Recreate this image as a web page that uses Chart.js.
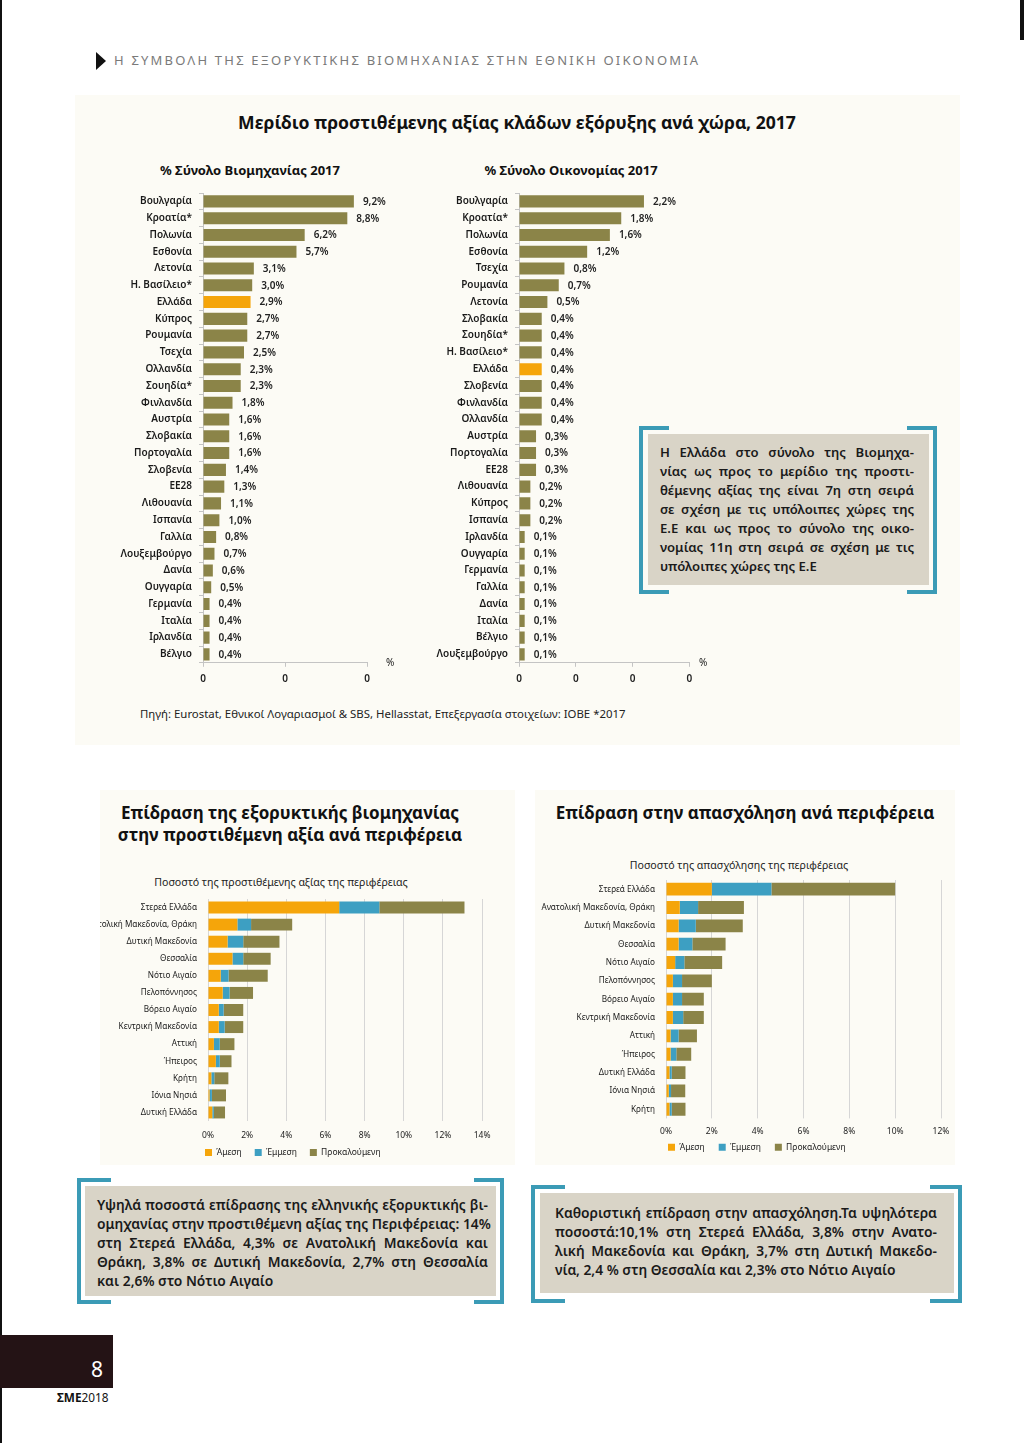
<!DOCTYPE html>
<html><head><meta charset="utf-8">
<script src="https://cdn.jsdelivr.net/npm/chart.js@4.4.1/dist/chart.umd.min.js"></script>
<style>
body{margin:0;width:1024px;height:1443px;position:relative;background:#fff;font-family:"Noto Sans",sans-serif;overflow:hidden;color:#1a1a1a}
.abs{position:absolute}
.panel{position:absolute;background:#fcfbf5}
.tri{position:absolute;left:96px;top:52px;width:0;height:0;border-left:10px solid #111;border-top:9px solid transparent;border-bottom:9px solid transparent}
.hdr{position:absolute;left:114px;top:51px;font-size:13px;letter-spacing:2.2px;color:#7a7a7a;white-space:nowrap;line-height:19px}
.title{position:absolute;font-weight:700;white-space:nowrap;color:#111;text-align:center}
.sub{position:absolute;font-weight:700;font-size:13px;white-space:nowrap;text-align:center;color:#111}
.sub2{position:absolute;font-size:10.6px;white-space:nowrap;text-align:center;color:#222}
canvas{display:block}
.cv{position:absolute}
.box{position:absolute;background:#d9d4c7}
.brk{position:absolute;border:4px solid #3b9bb6;}
.txt{position:absolute;font-weight:600;color:#1a1a1a;}
.txt div{text-align:justify;text-align-last:justify;white-space:nowrap}
.txt div.last{text-align-last:left}
.src{position:absolute;left:140px;top:706px;font-size:11.4px;white-space:nowrap;color:#222}
</style></head><body>
<div class="abs" style="left:0;top:0;width:2px;height:1443px;background:#111"></div>
<div class="abs" style="left:1020px;top:0;width:4px;height:40px;background:#111"></div>

<div class="panel" style="left:75px;top:95px;width:885px;height:650px"></div>
<div class="panel" style="left:100px;top:790px;width:415px;height:375px"></div>
<div class="panel" style="left:535px;top:790px;width:420px;height:375px"></div>

<div class="tri"></div>
<div class="hdr">Η ΣΥΜΒΟΛΗ ΤΗΣ ΕΞΟΡΥΚΤΙΚΗΣ ΒΙΟΜΗΧΑΝΙΑΣ ΣΤΗΝ ΕΘΝΙΚΗ ΟΙΚΟΝΟΜΙΑ</div>

<div class="title" style="left:217px;width:600px;top:109px;font-size:17.6px;line-height:26px">Μερίδιο προστιθέμενης αξίας κλάδων εξόρυξης ανά χώρα, 2017</div>
<div class="sub" style="left:150px;width:200px;top:161px">% Σύνολο Βιομηχανίας 2017</div>
<div class="sub" style="left:471px;width:200px;top:161px">% Σύνολο Οικονομίας 2017</div>

<div class="cv" style="left:85px;top:178.6px;width:330px;height:516.4px"><canvas id="c1"></canvas></div>
<div class="cv" style="left:420px;top:178.6px;width:300px;height:516.4px"><canvas id="c2"></canvas></div>
<div class="abs" style="left:386px;top:655px;font-size:10px">%</div>
<div class="abs" style="left:699px;top:655px;font-size:10px">%</div>

<div class="brk" style="left:639px;top:426px;width:26px;height:160px;border-right:none"></div>
<div class="brk" style="left:907px;top:426px;width:26px;height:160px;border-left:none"></div>
<div class="box" style="left:648px;top:434px;width:281px;height:151px"></div>
<div class="txt" style="left:660px;top:443px;width:254px;font-size:13.1px;line-height:19px">
<div>Η Ελλάδα στο σύνολο της Βιομηχα-</div>
<div>νίας ως προς το μερίδιο της προστι-</div>
<div>θέμενης αξίας της είναι 7η στη σειρά</div>
<div>σε σχέση με τις υπόλοιπες χώρες της</div>
<div>Ε.Ε και ως προς το σύνολο της οικο-</div>
<div>νομίας 11η στη σειρά σε σχέση με τις</div>
<div class="last">υπόλοιπες χώρες της Ε.Ε</div>
</div>

<div class="src">Πηγή: Eurostat, Εθνικοί Λογαριασμοί &amp; SBS, Hellasstat, Επεξεργασία στοιχείων: ΙΟΒΕ *2017</div>

<div class="title" style="left:90px;width:400px;top:802px;font-size:17px;line-height:22px">Επίδραση της εξορυκτικής βιομηχανίας<br>στην προστιθέμενη αξία ανά περιφέρεια</div>
<div class="title" style="left:545px;width:400px;top:802px;font-size:17px;line-height:22px">Επίδραση στην απασχόληση ανά περιφέρεια</div>
<div class="sub2" style="left:131px;width:300px;top:875px">Ποσοστό της προστιθέμενης αξίας της περιφέρειας</div>
<div class="sub2" style="left:589px;width:300px;top:858px">Ποσοστό της απασχόλησης της περιφέρειας</div>

<div class="cv" style="left:100px;top:880.5px;width:400px;height:294px"><canvas id="c3"></canvas></div>
<div class="cv" style="left:530px;top:861.8px;width:430px;height:311px"><canvas id="c4"></canvas></div>

<div class="brk" style="left:77px;top:1178px;width:30px;height:118px;border-right:none"></div>
<div class="brk" style="left:474px;top:1178px;width:26px;height:118px;border-left:none"></div>
<div class="box" style="left:85px;top:1186px;width:411px;height:110px"></div>
<div class="txt" style="left:97px;top:1195px;width:391px;font-size:13.8px;line-height:19px">
<div>Υψηλά ποσοστά επίδρασης της ελληνικής εξορυκτικής βι-</div>
<div>ομηχανίας στην προστιθέμενη αξίας της Περιφέρειας: 14%</div>
<div>στη Στερεά Ελλάδα, 4,3% σε Ανατολική Μακεδονία και</div>
<div>Θράκη, 3,8% σε Δυτική Μακεδονία, 2,7% στη Θεσσαλία</div>
<div class="last">και 2,6% στο Νότιο Αιγαίο</div>
</div>

<div class="brk" style="left:531px;top:1185px;width:30px;height:110px;border-right:none"></div>
<div class="brk" style="left:930px;top:1185px;width:28px;height:110px;border-left:none"></div>
<div class="box" style="left:540px;top:1193px;width:414px;height:100px"></div>
<div class="txt" style="left:555px;top:1203px;width:382px;font-size:13.8px;line-height:19px">
<div>Καθοριστική επίδραση στην απασχόληση.Τα υψηλότερα</div>
<div>ποσοστά:10,1% στη Στερεά Ελλάδα, 3,8% στην Ανατο-</div>
<div>λική Μακεδονία και Θράκη, 3,7% στη Δυτική Μακεδο-</div>
<div class="last">νία, 2,4 % στη Θεσσαλία και 2,3% στο Νότιο Αιγαίο</div>
</div>

<div class="abs" style="left:0;top:1335px;width:113px;height:53px;background:#241315"></div>
<div class="abs" style="left:91px;top:1355px;font-size:21px;color:#fff;line-height:28px">8</div>
<div class="abs" style="left:57px;top:1389px;font-size:11.8px;white-space:nowrap;color:#111"><b>ΣΜΕ</b>2018</div>

<script>
// ---- DATA ----
const industryCountries = ['Βουλγαρία','Κροατία*','Πολωνία','Εσθονία','Λετονία','Η. Βασίλειο*','Ελλάδα','Κύπρος','Ρουμανία','Τσεχία','Ολλανδία','Σουηδία*','Φινλανδία','Αυστρία','Σλοβακία','Πορτογαλία','Σλοβενία','ΕΕ28','Λιθουανία','Ισπανία','Γαλλία','Λουξεμβούργο','Δανία','Ουγγαρία','Γερμανία','Ιταλία','Ιρλανδία','Βέλγιο'];
const industryValues = [9.2,8.8,6.2,5.7,3.1,3.0,2.9,2.7,2.7,2.5,2.3,2.3,1.8,1.6,1.6,1.6,1.4,1.3,1.1,1.0,0.8,0.7,0.6,0.5,0.4,0.4,0.4,0.4];
const economyCountries = ['Βουλγαρία','Κροατία*','Πολωνία','Εσθονία','Τσεχία','Ρουμανία','Λετονία','Σλοβακία','Σουηδία*','Η. Βασίλειο*','Ελλάδα','Σλοβενία','Φινλανδία','Ολλανδία','Αυστρία','Πορτογαλία','ΕΕ28','Λιθουανία','Κύπρος','Ισπανία','Ιρλανδία','Ουγγαρία','Γερμανία','Γαλλία','Δανία','Ιταλία','Βέλγιο','Λουξεμβούργο'];
const economyValues = [2.2,1.8,1.6,1.2,0.8,0.7,0.5,0.4,0.4,0.4,0.4,0.4,0.4,0.4,0.3,0.3,0.3,0.2,0.2,0.2,0.1,0.1,0.1,0.1,0.1,0.1,0.1,0.1];
const industryTickLabels = ['0','0','0'];
const economyTickLabels = ['0','0','0','0'];
const highlightCountry = 'Ελλάδα';

const impactSeries = ['Άμεση','Έμμεση','Προκαλούμενη'];
const gvaRegions = ['Στερεά Ελλάδα','Ανατολική Μακεδονία, Θράκη','Δυτική Μακεδονία','Θεσσαλία','Νότιο Αιγαίο','Πελοπόννησος','Βόρειο Αιγαίο','Κεντρική Μακεδονία','Αττική','Ήπειρος','Κρήτη','Ιόνια Νησιά','Δυτική Ελλάδα'];
const gvaDirect   = [6.7,1.5,1.0,1.25,0.65,0.75,0.55,0.55,0.3,0.4,0.17,0.08,0.22];
const gvaIndirect = [2.05,0.7,0.8,0.55,0.4,0.35,0.25,0.3,0.3,0.2,0.15,0.12,0.08];
const gvaInduced  = [4.35,2.1,1.85,1.4,2.0,1.2,1.0,0.95,0.75,0.6,0.72,0.72,0.57];
const empRegions = ['Στερεά Ελλάδα','Ανατολική Μακεδονία, Θράκη','Δυτική Μακεδονία','Θεσσαλία','Νότιο Αιγαίο','Πελοπόννησος','Βόρειο Αιγαίο','Κεντρική Μακεδονία','Αττική','Ήπειρος','Δυτική Ελλάδα','Ιόνια Νησιά','Κρήτη'];
const empDirect   = [2.0,0.6,0.55,0.55,0.4,0.3,0.3,0.3,0.2,0.2,0.15,0.12,0.15];
const empIndirect = [2.6,0.8,0.75,0.6,0.4,0.4,0.4,0.45,0.35,0.25,0.1,0.1,0.1];
const empInduced  = [5.4,2.0,2.05,1.45,1.65,1.3,0.95,0.9,0.8,0.65,0.6,0.62,0.6];

// ---- STYLE ----
const OLIVE = '#8b8448', ORANGE = '#f5a50a', TEAL = '#3d9fc2';
const FONT = '"Noto Sans", sans-serif';

const valueLabels = {
  id: 'valueLabels',
  afterDatasetsDraw(chart, args, opts) {
    const ctx = chart.ctx, meta = chart.getDatasetMeta(0);
    ctx.save();
    ctx.font = opts.font; ctx.fillStyle = opts.color;
    ctx.textBaseline = 'middle'; ctx.textAlign = 'left';
    meta.data.forEach((bar, i) => {
      const v = chart.data.datasets[0].data[i];
      ctx.fillText(v.toFixed(1).replace('.', ',') + '%', bar.x + opts.offset, bar.y + 0.5);
    });
    ctx.restore();
  }
};

const legendPos = {
  id: 'legendPos',
  afterLayout(chart, args, opts) {
    const l = chart.legend;
    if (!l || opts.left === undefined) return;
    const w = l.width, h = l.height;
    l.left = opts.left; l.right = opts.left + w;
    l.top = opts.top; l.bottom = opts.top + h;
  }
};

function countryChart(id, cats, vals, max, step, tickLabels, yWidth, rightPad) {
  return new Chart(document.getElementById(id), {
    type: 'bar',
    data: { labels: cats, datasets: [{ data: vals,
      backgroundColor: cats.map(c => c === highlightCountry ? ORANGE : OLIVE),
      barPercentage: 0.72, categoryPercentage: 1 }] },
    plugins: [valueLabels],
    options: {
      indexAxis: 'y', responsive: true, maintainAspectRatio: false, animation: false,
      layout: { padding: { left: 0, right: rightPad, top: 14, bottom: 0 } },
      plugins: { legend: { display: false }, tooltip: { enabled: false },
        valueLabels: { font: '600 10px ' + FONT, color: '#222', offset: 9 } },
      scales: {
        x: { min: 0, max: max, ticks: { stepSize: step, padding: 6, color: '#222',
               font: { family: FONT, size: 10, weight: '600' },
               callback: (v, i) => tickLabels[i] },
             grid: { drawOnChartArea: false, tickLength: 4, color: '#c4c4c4' },
             border: { color: '#c4c4c4' },
             afterFit(s) { s.height = 32.6; } },
        y: { ticks: { padding: 7, color: '#1a1a1a', autoSkip: false,
               font: { family: FONT, size: 10, weight: '600' } },
             grid: { drawOnChartArea: false, tickLength: 4, color: '#c4c4c4' },
             border: { color: '#c4c4c4' },
             afterFit(s) { s.width = yWidth; } }
      }
    }
  });
}
countryChart('c1', industryCountries, industryValues, 10, 5, industryTickLabels, 118, 48);
countryChart('c2', economyCountries, economyValues, 3, 1, economyTickLabels, 99, 30.6);

function impactChart(id, cats, d1, d2, d3, max, pad, yWidth, xHeight, tickPad, legPad, legLeft, legTop) {
  const sets = [d1, d2, d3];
  const colors = [ORANGE, TEAL, OLIVE];
  return new Chart(document.getElementById(id), {
    type: 'bar',
    data: { labels: cats, datasets: sets.map((d, k) => ({ label: impactSeries[k], data: d,
      backgroundColor: colors[k], barPercentage: 0.7, categoryPercentage: 1 })) },
    plugins: [legendPos],
    options: {
      indexAxis: 'y', responsive: true, maintainAspectRatio: false, animation: false,
      layout: { padding: pad },
      plugins: {
        tooltip: { enabled: false },
        legendPos: { left: legLeft, top: legTop },
        legend: { position: 'bottom', align: 'start',
          labels: { boxWidth: 7, boxHeight: 7, padding: legPad, color: '#222',
            font: { family: FONT, size: 8.5 } } }
      },
      scales: {
        x: { stacked: true, min: 0, max: max,
             ticks: { stepSize: 2, padding: tickPad, color: '#222', font: { family: FONT, size: 8.5 },
               callback: v => v + '%' },
             grid: { color: '#d6d6d6', tickLength: 0 }, border: { display: false },
             afterFit(s) { s.height = xHeight; } },
        y: { stacked: true,
             ticks: { padding: 3, color: '#1a1a1a', autoSkip: false, font: { family: FONT, size: 8.2 } },
             grid: { display: false }, border: { display: false },
             afterFit(s) { s.width = yWidth; } }
      }
    }
  });
}
impactChart('c3', gvaRegions, gvaDirect, gvaIndirect, gvaInduced, 14,
  { left: 0, right: 13, top: 18, bottom: 0 }, 108, 22.5, 9.5, 13, 92, 254.25);
impactChart('c4', empRegions, empDirect, empIndirect, empInduced, 12,
  { left: 0, right: 19, top: 18, bottom: 0 }, 136, 22.1, 7.8, 14, 124, 266.95);
</script>
</body></html>
